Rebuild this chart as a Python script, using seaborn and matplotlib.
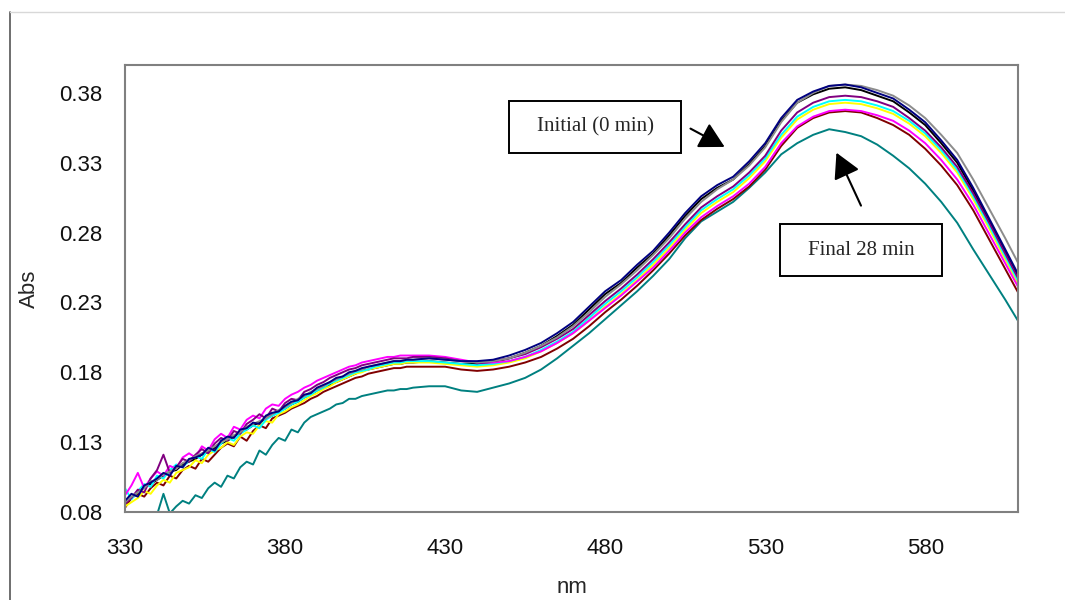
import pandas as pd
import matplotlib
matplotlib.use("Agg")
import matplotlib.pyplot as plt
import seaborn as sns
from matplotlib.patches import Rectangle
from matplotlib.lines import Line2D

# wavelength grid: 2 nm steps in the noisy UV part, 5 nm after
wl = list(range(330, 420, 2)) + list(range(420, 611, 5))

navy = [0.088, 0.093, 0.091, 0.099, 0.101, 0.104, 0.108, 0.106, 0.113, 0.112,
        0.118, 0.119, 0.121, 0.126, 0.124, 0.131, 0.134, 0.133, 0.139, 0.140,
        0.144, 0.143, 0.149, 0.151, 0.152, 0.156, 0.159, 0.160, 0.164, 0.165,
        0.169, 0.171, 0.173, 0.176, 0.177, 0.180, 0.181, 0.183, 0.184, 0.185,
        0.186, 0.187, 0.188, 0.188, 0.189,
        0.189, 0.190, 0.189, 0.188, 0.188, 0.189, 0.192, 0.196, 0.201, 0.208,
        0.216, 0.227, 0.238, 0.246, 0.257, 0.267, 0.280, 0.294, 0.306, 0.314,
        0.320, 0.331, 0.344, 0.362, 0.375, 0.381, 0.385, 0.386, 0.384, 0.380,
        0.376, 0.368, 0.359, 0.346, 0.332, 0.312, 0.290, 0.268, 0.246]

gray = [0.087, 0.091, 0.094, 0.097, 0.102, 0.103, 0.107, 0.109, 0.111, 0.115,
        0.117, 0.120, 0.122, 0.124, 0.127, 0.130, 0.132, 0.135, 0.137, 0.141,
        0.143, 0.145, 0.147, 0.150, 0.153, 0.155, 0.158, 0.161, 0.163, 0.166,
        0.168, 0.170, 0.173, 0.175, 0.177, 0.179, 0.181, 0.182, 0.184, 0.185,
        0.186, 0.187, 0.188, 0.188, 0.189,
        0.189, 0.190, 0.189, 0.188, 0.187, 0.188, 0.190, 0.194, 0.199, 0.205,
        0.213, 0.223, 0.234, 0.243, 0.253, 0.264, 0.276, 0.290, 0.302, 0.311,
        0.318, 0.328, 0.341, 0.359, 0.373, 0.380, 0.385, 0.386, 0.385, 0.382,
        0.378, 0.371, 0.362, 0.350, 0.337, 0.318, 0.297, 0.276, 0.254]

purple = [0.086, 0.090, 0.096, 0.094, 0.104, 0.110, 0.121, 0.108, 0.112, 0.118,
          0.116, 0.121, 0.125, 0.122, 0.129, 0.133, 0.131, 0.138, 0.136, 0.143,
          0.146, 0.150, 0.147, 0.154, 0.152, 0.158, 0.161, 0.160, 0.166, 0.168,
          0.171, 0.173, 0.176, 0.178, 0.180, 0.182, 0.183, 0.185, 0.186, 0.187,
          0.188, 0.189, 0.190, 0.190, 0.190,
          0.191, 0.191, 0.190, 0.188, 0.187, 0.188, 0.190, 0.193, 0.198, 0.204,
          0.211, 0.221, 0.231, 0.240, 0.250, 0.261, 0.273, 0.286, 0.298, 0.306,
          0.313, 0.323, 0.335, 0.353, 0.366, 0.373, 0.377, 0.378, 0.377, 0.374,
          0.370, 0.362, 0.353, 0.341, 0.327, 0.308, 0.287, 0.265, 0.243]

cyan = [0.097, 0.089, 0.095, 0.100, 0.098, 0.106, 0.104, 0.110, 0.114, 0.112,
        0.117, 0.120, 0.118, 0.125, 0.123, 0.129, 0.133, 0.131, 0.136, 0.139,
        0.142, 0.140, 0.146, 0.149, 0.151, 0.154, 0.157, 0.159, 0.162, 0.164,
        0.167, 0.169, 0.172, 0.174, 0.176, 0.178, 0.180, 0.181, 0.182, 0.184,
        0.185, 0.186, 0.187, 0.187, 0.188,
        0.188, 0.188, 0.187, 0.186, 0.185, 0.186, 0.188, 0.191, 0.196, 0.202,
        0.209, 0.219, 0.229, 0.238, 0.248, 0.259, 0.271, 0.284, 0.296, 0.304,
        0.311, 0.321, 0.333, 0.350, 0.363, 0.370, 0.374, 0.375, 0.374, 0.371,
        0.367, 0.360, 0.351, 0.339, 0.325, 0.306, 0.285, 0.263, 0.241]

yellow = [0.084, 0.087, 0.090, 0.095, 0.093, 0.099, 0.103, 0.101, 0.108, 0.110,
          0.112, 0.117, 0.115, 0.121, 0.124, 0.126, 0.130, 0.128, 0.134, 0.137,
          0.136, 0.142, 0.145, 0.144, 0.150, 0.152, 0.155, 0.157, 0.160, 0.163,
          0.165, 0.168, 0.170, 0.173, 0.175, 0.177, 0.179, 0.180, 0.182, 0.183,
          0.184, 0.185, 0.186, 0.186, 0.187,
          0.187, 0.187, 0.186, 0.185, 0.184, 0.185, 0.187, 0.190, 0.195, 0.201,
          0.208, 0.217, 0.227, 0.236, 0.246, 0.257, 0.269, 0.282, 0.294, 0.302,
          0.309, 0.319, 0.331, 0.348, 0.361, 0.368, 0.372, 0.373, 0.372, 0.369,
          0.365, 0.358, 0.349, 0.337, 0.323, 0.304, 0.283, 0.261, 0.239]

magenta = [0.092, 0.099, 0.108, 0.097, 0.104, 0.109, 0.106, 0.113, 0.111, 0.119,
           0.122, 0.119, 0.127, 0.124, 0.132, 0.136, 0.133, 0.141, 0.139, 0.146,
           0.149, 0.147, 0.154, 0.157, 0.156, 0.161, 0.164, 0.166, 0.169, 0.171,
           0.174, 0.176, 0.178, 0.180, 0.182, 0.184, 0.185, 0.187, 0.188, 0.189,
           0.190, 0.191, 0.191, 0.192, 0.192,
           0.192, 0.192, 0.191, 0.189, 0.187, 0.187, 0.188, 0.191, 0.195, 0.201,
           0.208, 0.217, 0.226, 0.235, 0.245, 0.255, 0.267, 0.280, 0.291, 0.299,
           0.306, 0.315, 0.327, 0.344, 0.356, 0.363, 0.367, 0.368, 0.367, 0.364,
           0.360, 0.353, 0.344, 0.332, 0.318, 0.300, 0.279, 0.258, 0.237]

darkred = [0.083, 0.090, 0.093, 0.091, 0.097, 0.101, 0.099, 0.106, 0.104, 0.110,
           0.113, 0.111, 0.118, 0.116, 0.121, 0.126, 0.129, 0.127, 0.134, 0.131,
           0.138, 0.142, 0.140, 0.147, 0.149, 0.151, 0.154, 0.156, 0.158, 0.161,
           0.163, 0.166, 0.168, 0.170, 0.172, 0.174, 0.176, 0.177, 0.179, 0.180,
           0.181, 0.182, 0.183, 0.183, 0.184,
           0.184, 0.184, 0.184, 0.182, 0.181, 0.182, 0.184, 0.187, 0.191, 0.197,
           0.204, 0.213, 0.223, 0.232, 0.242, 0.253, 0.265, 0.278, 0.289, 0.297,
           0.304, 0.313, 0.325, 0.342, 0.355, 0.362, 0.366, 0.367, 0.366, 0.362,
           0.357, 0.350, 0.340, 0.328, 0.314, 0.296, 0.275, 0.254, 0.233]

black = [0.086, 0.090, 0.095, 0.098, 0.100, 0.103, 0.106, 0.109, 0.110, 0.114,
         0.116, 0.118, 0.121, 0.123, 0.126, 0.129, 0.131, 0.134, 0.137, 0.139,
         0.142, 0.144, 0.147, 0.149, 0.152, 0.154, 0.157, 0.159, 0.162, 0.164,
         0.167, 0.169, 0.171, 0.173, 0.175, 0.177, 0.179, 0.181, 0.182, 0.183,
         0.184, 0.185, 0.186, 0.186, 0.187,
         0.187, 0.188, 0.187, 0.186, 0.186, 0.187, 0.190, 0.194, 0.199, 0.206,
         0.214, 0.225, 0.236, 0.244, 0.255, 0.265, 0.278, 0.292, 0.304, 0.312,
         0.318, 0.329, 0.342, 0.360, 0.373, 0.379, 0.383, 0.384, 0.382, 0.378,
         0.374, 0.366, 0.357, 0.344, 0.330, 0.310, 0.288, 0.266, 0.244]

teal = [0.072, 0.070, 0.074, 0.071, 0.076, 0.078, 0.093, 0.079, 0.084, 0.088,
        0.086, 0.092, 0.090, 0.097, 0.101, 0.098, 0.106, 0.104, 0.112, 0.116,
        0.114, 0.124, 0.121, 0.128, 0.133, 0.131, 0.139, 0.137, 0.144, 0.148,
        0.150, 0.152, 0.154, 0.157, 0.158, 0.161, 0.161, 0.163, 0.164, 0.165,
        0.166, 0.167, 0.167, 0.168, 0.168,
        0.169, 0.170, 0.170, 0.167, 0.166, 0.169, 0.172, 0.176, 0.182, 0.190,
        0.199, 0.208, 0.218, 0.228, 0.238, 0.249, 0.261, 0.276, 0.288, 0.295,
        0.302, 0.312, 0.323, 0.336, 0.344, 0.350, 0.354, 0.352, 0.349, 0.343,
        0.335, 0.326, 0.315, 0.302, 0.287, 0.268, 0.250, 0.232, 0.213]

series = {"teal": teal, "black": black, "darkred": darkred, "yellow": yellow,
          "cyan": cyan, "magenta": magenta, "purple": purple, "gray": gray,
          "navy": navy}
colours = {"teal": "#008080", "black": "#000000", "darkred": "#800000",
           "yellow": "#FFFF00", "cyan": "#00FFFF", "magenta": "#FF00FF",
           "purple": "#800080", "gray": "#8C8C8C", "navy": "#000080"}

df = pd.concat([pd.DataFrame({"nm": wl, "Abs": v, "scan": k}) for k, v in series.items()],
               ignore_index=True)

sns.set_style("white")
plt.rcParams['font.family'] = ['Liberation Sans', 'DejaVu Sans']

fig = plt.figure(figsize=(10.65, 6), dpi=100)
ax = fig.add_axes([0.1174, 0.1467, 0.8385, 0.745])

sns.lineplot(data=df, x="nm", y="Abs", hue="scan", hue_order=list(series.keys()),
             palette=colours, linewidth=1.4, legend=False, ax=ax, sort=False)

ax.set_xlim(330, 609)
ax.set_ylim(0.08, 0.40)
ax.set_xticks([330, 380, 430, 480, 530, 580])
ax.set_yticks([0.08, 0.13, 0.18, 0.23, 0.28, 0.33, 0.38])
ax.set_yticklabels(["0.08", "0.13", "0.18", "0.23", "0.28", "0.33", "0.38"])
for s in ax.spines.values():
    s.set_color("#808080")
    s.set_linewidth(1.5)
ax.tick_params(axis="both", direction="out", length=6, width=1.3, color="#808080",
               labelsize=16, labelcolor="#111111")
ax.tick_params(axis="x", pad=13)
ax.tick_params(axis="y", pad=10)
ax.set_xlabel("nm", fontsize=16, labelpad=13)
ax.set_ylabel("Abs", fontsize=16, labelpad=14)

# annotation boxes and arrows
serif = ['Liberation Serif', 'DejaVu Serif']
ax.add_patch(Rectangle((450, 0.3368), 53.75, 0.0372, fill=False, edgecolor="black",
                       linewidth=1.4, zorder=5))
ax.text(476.9, 0.3554, "Initial (0 min)", ha="center", va="center", fontsize=15,
        family=serif, zorder=6)
ax.add_patch(Rectangle((534.7, 0.2488), 50.6, 0.0372, fill=False, edgecolor="black",
                       linewidth=1.4, zorder=5))
ax.text(560, 0.2674, "Final 28 min", ha="center", va="center", fontsize=15,
        family=serif, zorder=6)
ax.annotate("", xy=(518.1, 0.3404), xytext=(505.9, 0.3554),
            arrowprops=dict(arrowstyle="-|>,head_length=0.55,head_width=0.3",
                            color="black", lw=1.5, mutation_scale=28))
ax.annotate("", xy=(551.9, 0.339), xytext=(560.3, 0.2975),
            arrowprops=dict(arrowstyle="-|>,head_length=0.55,head_width=0.3",
                            color="black", lw=1.5, mutation_scale=28))

# outer chart frame (left and top edges)
fig.add_artist(Line2D([0.0094, 0.0094], [0.0, 0.98], color="#555555", lw=1.2))
fig.add_artist(Line2D([0.0094, 1.0], [0.98, 0.98], color="#d8d8d8", lw=1.0))

fig.savefig("out.png", dpi=100)
